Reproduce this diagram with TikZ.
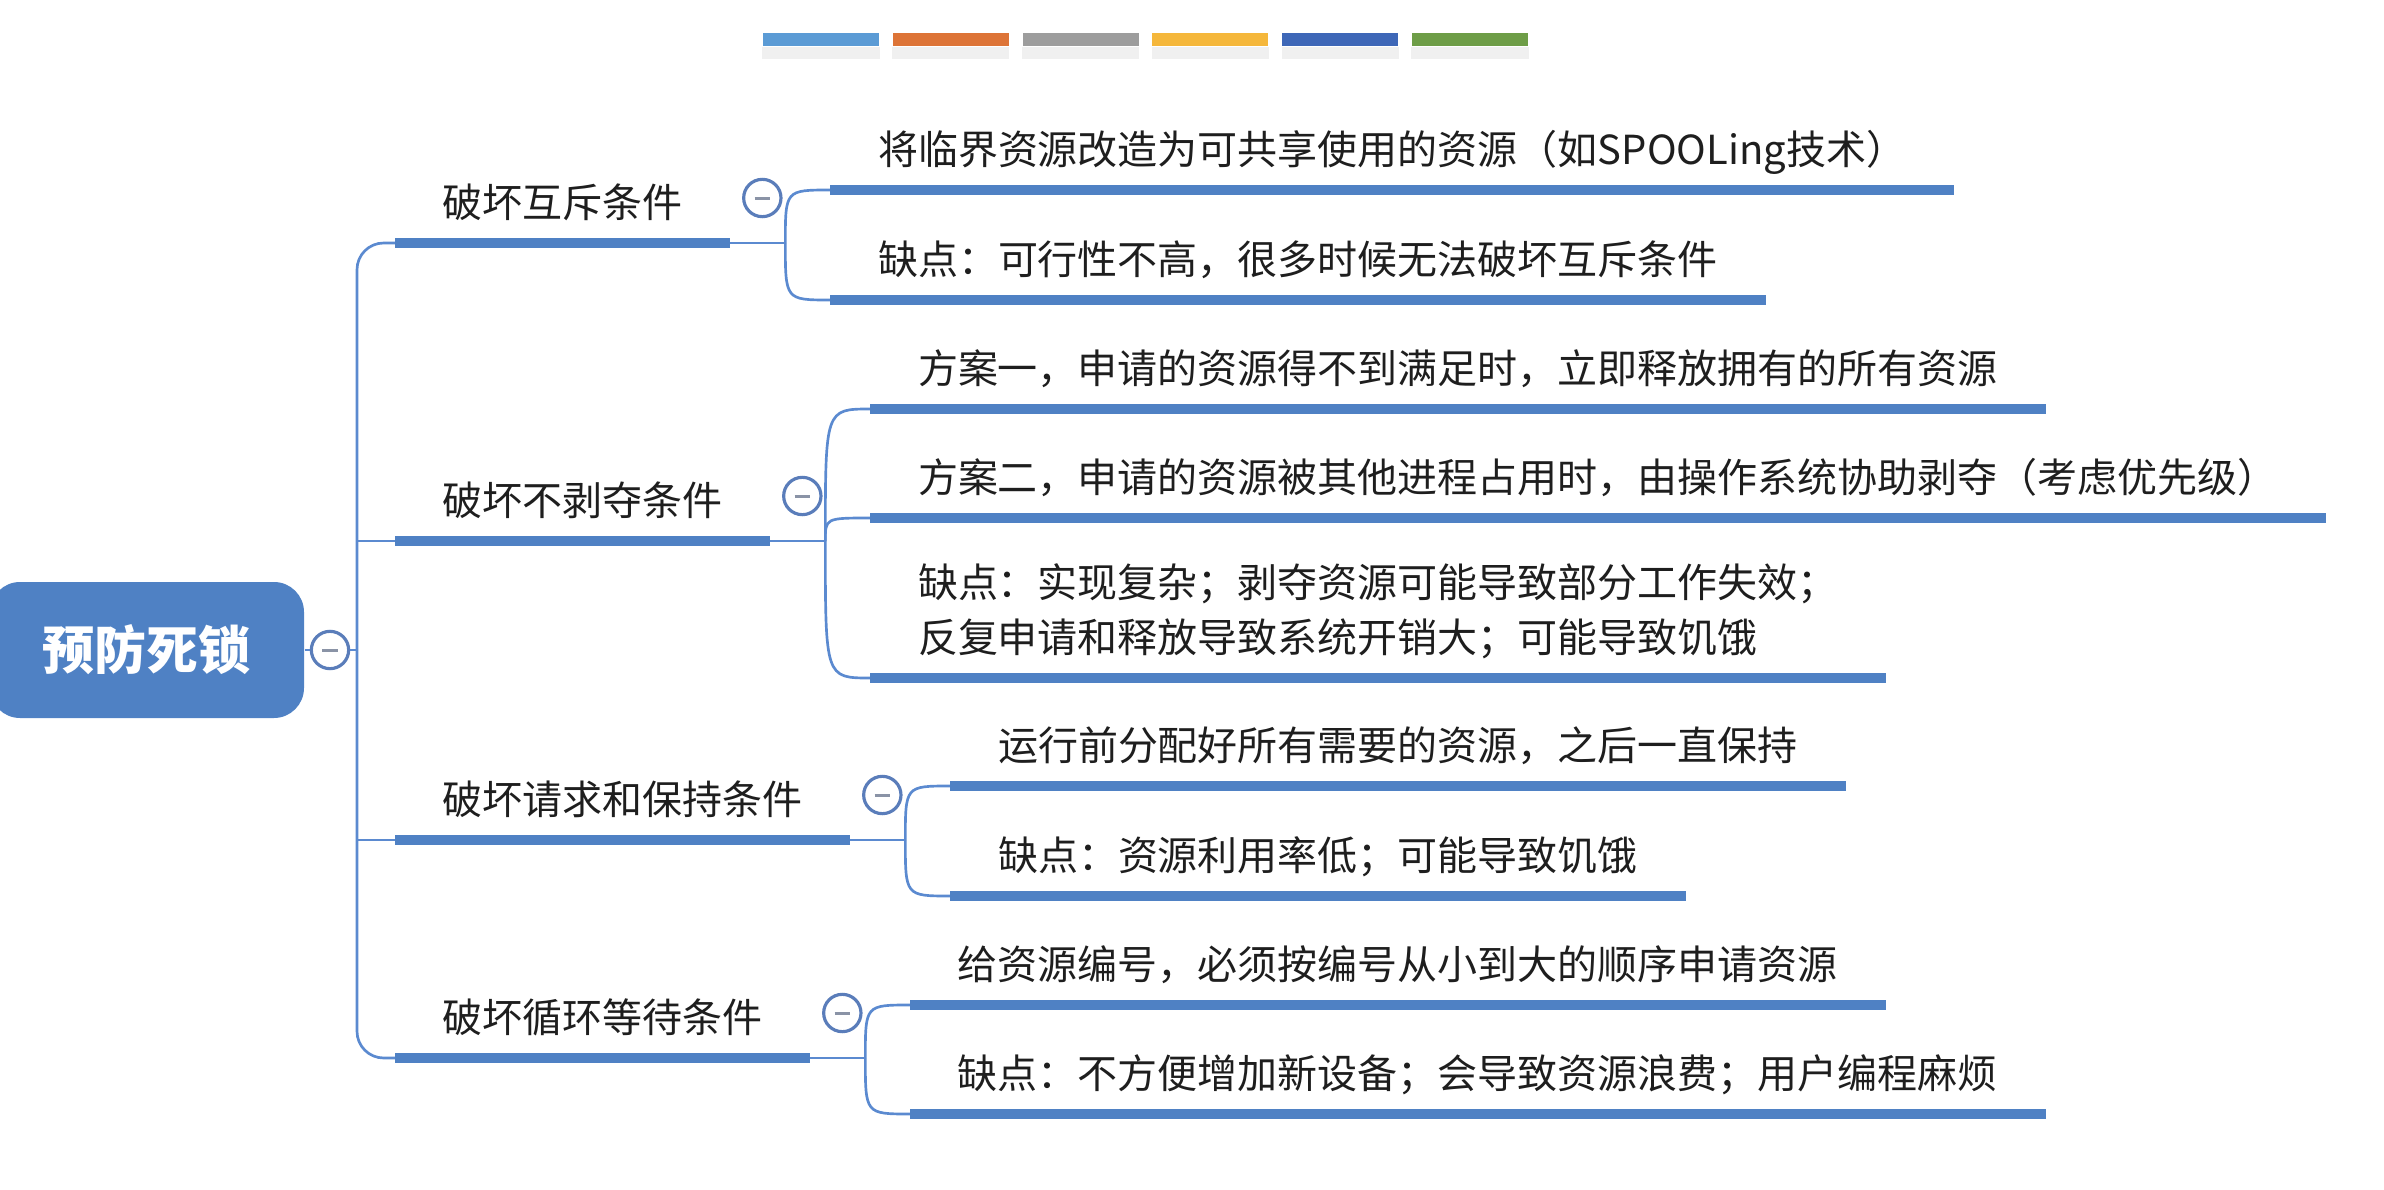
\documentclass[tikz,border=0pt]{standalone}
\usepackage{fontspec}
\newfontfamily\cjk{Noto Sans CJK SC}
\usetikzlibrary{calc,positioning}
\definecolor{barblue}{HTML}{4F81C4}
\definecolor{linkblue}{HTML}{5B8AD0}
\definecolor{btnblue}{HTML}{5A7DBA}
\definecolor{minusgray}{HTML}{8A93A6}
\definecolor{txt}{HTML}{1E1E1E}
\definecolor{pa}{HTML}{5B9BD5}
\definecolor{pb}{HTML}{DD7437}
\definecolor{pc}{HTML}{9D9D9D}
\definecolor{pd}{HTML}{F5B73B}
\definecolor{pe}{HTML}{3E67B7}
\definecolor{pf}{HTML}{6E9D47}

\begin{document}
\begin{tikzpicture}[x=0.3pt,y=-0.3pt,
  topic/.style={font=\cjk\fontsize{12pt}{16.5pt}\selectfont,text=txt,anchor=south west,align=left,
    inner xsep=14.1pt,inner ysep=0pt,text height=10pt,text depth=7.4pt},
  bar/.style={draw=barblue,line width=2.9pt},
  link/.style={draw=linkblue,line width=0.8pt},
  btn/.style={circle,draw=btnblue,line width=0.95pt,fill=white,minimum size=11.2pt,inner sep=0pt,
    path picture={\draw[minusgray,line width=0.9pt]
      ([xshift=-2.3pt]path picture bounding box.center) -- ([xshift=2.3pt]path picture bounding box.center);}},
  rootbox/.style={fill=barblue,rounded corners=9pt,minimum width=94.2pt,minimum height=40.8pt,
    text=white,font=\cjk\bfseries\fontsize{15.6pt}{18pt}\selectfont},
  swatch/.style={minimum width=34.8pt,minimum height=3.9pt,inner sep=0pt}
]
\useasboundingbox (0,0) rectangle (2384,1190);

% colour strip
\foreach \c [count=\i] in {pa,pb,pc,pd,pe,pf} {
  \node[swatch,fill=\c] (sw\i) at ({821+129.8*(\i-1)},39.5) {};
  \fill[black,opacity=0.06] (sw\i.south west) rectangle ($(sw\i.south east)+(0,12)$);
}

% root
\node[rootbox] (root) at (147,650) {预防死锁};
\node[btn] (rootbtn) at (330,650) {};
\coordinate (trunk) at (357,650);

% first level
\node[topic] (m1) at (395,243) {破坏互斥条件};
\node[topic] (m2) at (395,541) {破坏不剥夺条件};
\node[topic] (m3) at (395,840) {破坏请求和保持条件};
\node[topic] (m4) at (395,1058) {破坏循环等待条件};
\foreach \i in {1,...,4} {
  \coordinate (j\i) at ($(m\i.south east)+(55,0)$);
}

% second level
\node[topic] (c11) at ($(j1)+(45,-53)$) {将临界资源改造为可共享使用的资源（如SPOOLing技术）};
\node[topic] (c12) at ($(j1)+(45,57)$) {缺点：可行性不高，很多时候无法破坏互斥条件};
\node[topic] (c21) at ($(j2)+(45,-132)$) {方案一，申请的资源得不到满足时，立即释放拥有的所有资源};
\node[topic] (c22) at ($(j2)+(45,-23)$) {方案二，申请的资源被其他进程占用时，由操作系统协助剥夺（考虑优先级）};
\node[topic] (c23) at ($(j2)+(45,137)$) {缺点：实现复杂；剥夺资源可能导致部分工作失效；\\反复申请和释放导致系统开销大；可能导致饥饿};
\node[topic] (c31) at ($(j3)+(45,-54)$) {运行前分配好所有需要的资源，之后一直保持};
\node[topic] (c32) at ($(j3)+(45,56)$) {缺点：资源利用率低；可能导致饥饿};
\node[topic] (c41) at ($(j4)+(45,-53)$) {给资源编号，必须按编号从小到大的顺序申请资源};
\node[topic] (c42) at ($(j4)+(45,56)$) {缺点：不方便增加新设备；会导致资源浪费；用户编程麻烦};

% connectors
\draw[link] (root.east) -- (rootbtn.west);
\draw[link] (rootbtn.east) -- (trunk);
\draw[link,rounded corners=8pt] (m1.south west) -| (trunk) |- (m4.south west);
\draw[link] (m2.south west) -- (m2.south west -| trunk);
\draw[link] (m3.south west) -- (m3.south west -| trunk);
\foreach \p/\c in {1/11,1/12,2/21,2/22,2/23,3/31,3/32,4/41,4/42} {
  \draw[link] (j\p) .. controls (j\p |- c\c.south west) .. (c\c.south west);
  \draw[bar] (c\c.south west) -- (c\c.south east);
}
\foreach \i in {1,...,4} {
  \draw[link] (m\i.south east) -- (j\i);
  \draw[bar] (m\i.south west) -- (m\i.south east);
  \node[btn] (b\i) at ($(m\i.south east)+(32,-45)$) {};
}
\end{tikzpicture}
\end{document}
